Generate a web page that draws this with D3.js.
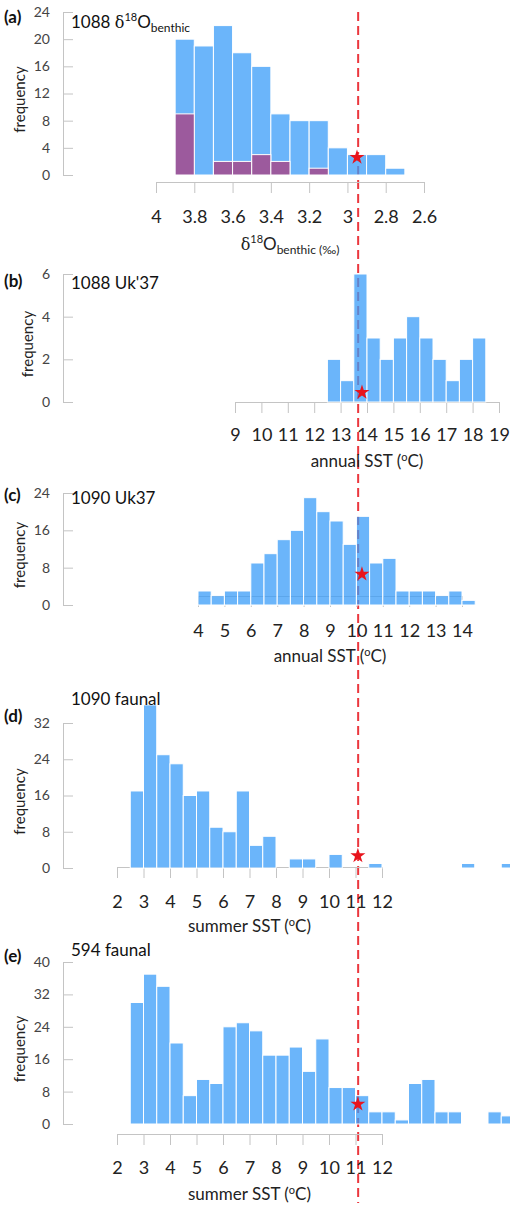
<!DOCTYPE html>
<html>
<head lang="en">
    <meta charset="UTF-8">
    <title>SST histograms</title>
    <style>
        body { margin: 0; background: #fff; }
        svg text { font-family: Lato, "Open Sans", sans-serif; }
    </style>
</head>
<body>
<svg width="510" height="1205"></svg>
<script src="https://cdn.jsdelivr.net/npm/d3@7/dist/d3.min.js"></script>
<script>
    // (a) 1088 d18O benthic, bin lower edges (bin width 0.1)
    var aBinLo = [3.8, 3.7, 3.6, 3.5, 3.4, 3.3, 3.2, 3.1, 3.0, 2.9, 2.8, 2.7];
    var aCounts = [20, 19, 22, 18, 16, 9, 8, 8, 4, 3, 3, 1];
    var aSubCounts = [9, 0, 2, 2, 3, 2, 0, 1, 0, 0, 0, 0];
    var aTicks = [4, 3.8, 3.6, 3.4, 3.2, 3, 2.8, 2.6];
    var aFreqTicks = [0, 4, 8, 12, 16, 20, 24];
    var aStar = [2.95, 2.6];

    // (b) 1088 Uk'37, bin width 0.5
    var bBinLo = [12.5, 13, 13.5, 14, 14.5, 15, 15.5, 16, 16.5, 17, 17.5, 18];
    var bCounts = [2, 1, 6, 3, 2, 3, 4, 3, 2, 1, 2, 3];
    var bTicks = [9, 10, 11, 12, 13, 14, 15, 16, 17, 18, 19];
    var bFreqTicks = [0, 2, 4, 6];
    var bStar = [13.81, 0.45];

    // (c) 1090 Uk37
    var cBinLo = [4, 4.5, 5, 5.5, 6, 6.5, 7, 7.5, 8, 8.5, 9, 9.5, 10, 10.5, 11, 11.5, 12, 12.5, 13, 13.5, 14];
    var cCounts = [3, 2, 3, 3, 9, 11, 14, 16, 23, 20, 18, 13, 19, 9, 10, 3, 3, 3, 2, 3, 1];
    var cTicks = [4, 5, 6, 7, 8, 9, 10, 11, 12, 13, 14];
    var cFreqTicks = [0, 8, 16, 24];
    var cStar = [10.21, 6.6];

    // (d) 1090 faunal
    var dBinLo = [2.5, 3, 3.5, 4, 4.5, 5, 5.5, 6, 6.5, 7, 7.5, 8.5, 9, 10, 11.5, 15, 16.5];
    var dCounts = [17, 36, 25, 23, 16, 17, 9, 8, 17, 5, 7, 2, 2, 3, 1, 1, 1];
    var dTicks = [2, 3, 4, 5, 6, 7, 8, 9, 10, 11, 12];
    var dFreqTicks = [0, 8, 16, 24, 32];
    var dStar = [11.09, 2.7];

    // (e) 594 faunal
    var eBinLo = [2.5, 3, 3.5, 4, 4.5, 5, 5.5, 6, 6.5, 7, 7.5, 8, 8.5, 9, 9.5, 10, 10.5, 11, 11.5, 12, 12.5, 13, 13.5, 14, 14.5, 16, 16.5];
    var eCounts = [30, 37, 34, 20, 7, 11, 10, 24, 25, 23, 17, 17, 19, 13, 21, 9, 9, 7, 3, 3, 1, 10, 11, 3, 3, 3, 2];
    var eTicks = [2, 3, 4, 5, 6, 7, 8, 9, 10, 11, 12];
    var eFreqTicks = [0, 8, 16, 24, 32, 40];
    var eStar = [11.09, 4.9];

    // modern value, read on the summer SST axis
    var refSST = 11.1;

    var svg = d3.select("svg");
    var BLUE = "#3a9cf8", PURPLE = "#9c5a9d", RED = "#e8141c", AXIS = "#c4c4c4";
    var FONT = "Lato, 'Open Sans', sans-serif";

    var panels = [
        {tag: "(a)", tagY: 23, binLo: aBinLo, counts: aCounts, sub: aSubCounts, bw: -0.1, ticks: aTicks, fticks: aFreqTicks, star: aStar,
            xd: [4, 2.6], xr: [156, 424], yd: [0, 24], yr: [175, 12], axisY: 182, pad: 17, titleY: 28, labelY: 250,
            title: "a", xlabel: "a"},
        {tag: "(b)", tagY: 287, binLo: bBinLo, counts: bCounts, bw: 0.5, ticks: bTicks, fticks: bFreqTicks, star: bStar,
            xd: [9, 19], xr: [235, 499], yd: [0, 6], yr: [402, 274], axisY: 402, pad: 15, titleY: 289, labelY: 467,
            title: "1088 Uk'37", xlabel: "annual"},
        {tag: "(c)", tagY: 501, binLo: cBinLo, counts: cCounts, bw: 0.5, ticks: cTicks, fticks: cFreqTicks, star: cStar,
            xd: [4, 14], xr: [198, 462], yd: [0, 24], yr: [605, 493], axisY: 596, pad: 17, titleY: 504, labelY: 662,
            title: "1090 Uk37", xlabel: "annual"},
        {tag: "(d)", tagY: 722, binLo: dBinLo, counts: dCounts, bw: 0.5, ticks: dTicks, fticks: dFreqTicks, star: dStar,
            xd: [2, 12], xr: [117, 382], yd: [0, 32], yr: [868, 723], axisY: 867, pad: 17, titleY: 705, labelY: 932,
            title: "1090 faunal", xlabel: "summer"},
        {tag: "(e)", tagY: 962, binLo: eBinLo, counts: eCounts, bw: 0.5, ticks: eTicks, fticks: eFreqTicks, star: eStar,
            xd: [2, 12], xr: [117, 382], yd: [0, 40], yr: [1124, 962], axisY: 1134, pad: 16, titleY: 956, labelY: 1200,
            title: "594 faunal", xlabel: "summer"}
    ];

    var lineLayer = svg.append("g");
    var layers = panels.map(function () { return svg.append("g"); });

    // red dashed reference line, behind the bars
    var eScale = d3.scaleLinear().domain(panels[4].xd).range(panels[4].xr);
    lineLayer.append("line")
        .attr("x1", eScale(refSST)).attr("x2", eScale(refSST))
        .attr("y1", 12).attr("y2", 1203)
        .attr("stroke", RED).attr("stroke-opacity", 0.85)
        .attr("stroke-width", 2).attr("stroke-dasharray", "9,5");

    function d18Olabel(t, big, small) {
        t.append("tspan").attr("font-family", "'DejaVu Serif', serif").attr("font-size", big - 1).text("\u03b4");
        t.append("tspan").attr("font-size", small - 1).attr("dy", -7).text("18");
        t.append("tspan").attr("font-size", big).attr("dy", 7).text("O");
        t.append("tspan").attr("font-size", small).attr("dy", 4).text("benthic");
    }

    panels.forEach(function (p, i) {
        var g = layers[i];
        var x = d3.scaleLinear().domain(p.xd).range(p.xr);
        var y = d3.scaleLinear().domain(p.yd).range(p.yr);

        // x axis
        var xa = g.append("g")
                .attr("transform", "translate(0," + p.axisY + ")")
                .call(d3.axisBottom(x).tickValues(p.ticks).tickSize(11).tickSizeOuter(0)
                        .tickPadding(p.pad).tickFormat(d3.format("")));
        xa.attr("color", AXIS).attr("font-size", 18).attr("font-family", FONT);
        xa.selectAll("text").attr("fill", "#222");

        // y axis, ticks pointing inward
        var ya = g.append("g")
                .attr("transform", "translate(63,0)")
                .call(d3.axisLeft(y).tickValues(p.fticks).tickSize(-10).tickSizeOuter(0)
                        .tickPadding(13).tickFormat(d3.format("d")));
        ya.attr("color", AXIS).attr("font-size", 14).attr("font-family", FONT);
        ya.selectAll("text").attr("fill", "#444");

        // bars
        var bars = p.binLo.map(function (lo, k) { return {lo: lo, n: p.counts[k]}; });
        g.selectAll("rect.bar").data(bars).enter().append("rect")
                .attr("class", "bar")
                .attr("x", function (d) { return Math.min(x(d.lo), x(d.lo + Math.abs(p.bw))); })
                .attr("width", function (d) { return Math.abs(x(d.lo + Math.abs(p.bw)) - x(d.lo)); })
                .attr("y", function (d) { return y(d.n); })
                .attr("height", function (d) { return y(0) - y(d.n); })
                .attr("fill", BLUE).attr("fill-opacity", 0.75)
                .attr("stroke", "#fff").attr("stroke-width", 1);

        if (p.sub) {
            var sub = p.binLo.map(function (lo, k) { return {lo: lo, n: p.sub[k]}; })
                    .filter(function (d) { return d.n > 0; });
            g.selectAll("rect.sub").data(sub).enter().append("rect")
                    .attr("class", "sub")
                    .attr("x", function (d) { return Math.min(x(d.lo), x(d.lo + 0.1)); })
                    .attr("width", function (d) { return Math.abs(x(d.lo + 0.1) - x(d.lo)); })
                    .attr("y", function (d) { return y(d.n); })
                    .attr("height", function (d) { return y(0) - y(d.n); })
                    .attr("fill", PURPLE)
                    .attr("stroke", "#fff").attr("stroke-width", 1);
        }

        // star
        g.append("path")
                .attr("d", d3.symbol().type(d3.symbolStar).size(70))
                .attr("transform", "translate(" + x(p.star[0]) + "," + y(p.star[1]) + ")")
                .attr("fill", RED);

        // panel tag
        g.append("text").attr("x", 4).attr("y", p.tagY)
                .attr("font-size", 17).attr("font-weight", "bold").attr("fill", "#111").text(p.tag);

        // panel title
        var t = g.append("text").attr("x", 71).attr("y", p.titleY).attr("font-size", 17).attr("fill", "#111");
        if (p.title === "a") {
            t.append("tspan").text("1088 ");
            d18Olabel(t, 17, 12);
        } else {
            t.text(p.title);
        }

        // y label
        var fy = (p.yr[0] + p.yr[1]) / 2 + 6;
        g.append("text")
                .attr("transform", "translate(" + (i === 1 ? 28 : 20) + "," + fy + ") rotate(-90)")
                .attr("text-anchor", "middle").attr("dy", "0.35em")
                .attr("font-size", 15).attr("fill", "#222").text("frequency");

        // x label
        var cx = (p.xr[0] + p.xr[1]) / 2;
        var xl = g.append("text").attr("x", cx).attr("y", p.labelY)
                .attr("text-anchor", "middle").attr("font-size", 17).attr("fill", "#222");
        if (p.xlabel === "a") {
            d18Olabel(xl, 17, 12);
            xl.append("tspan").attr("font-size", 12).text(" (\u2030)");
        } else {
            xl.append("tspan").text(p.xlabel + " SST (");
            xl.append("tspan").attr("font-size", 11).attr("dy", -6).text("o");
            xl.append("tspan").attr("dy", 6).text("C)");
        }
    });
</script>
</body>
</html>
